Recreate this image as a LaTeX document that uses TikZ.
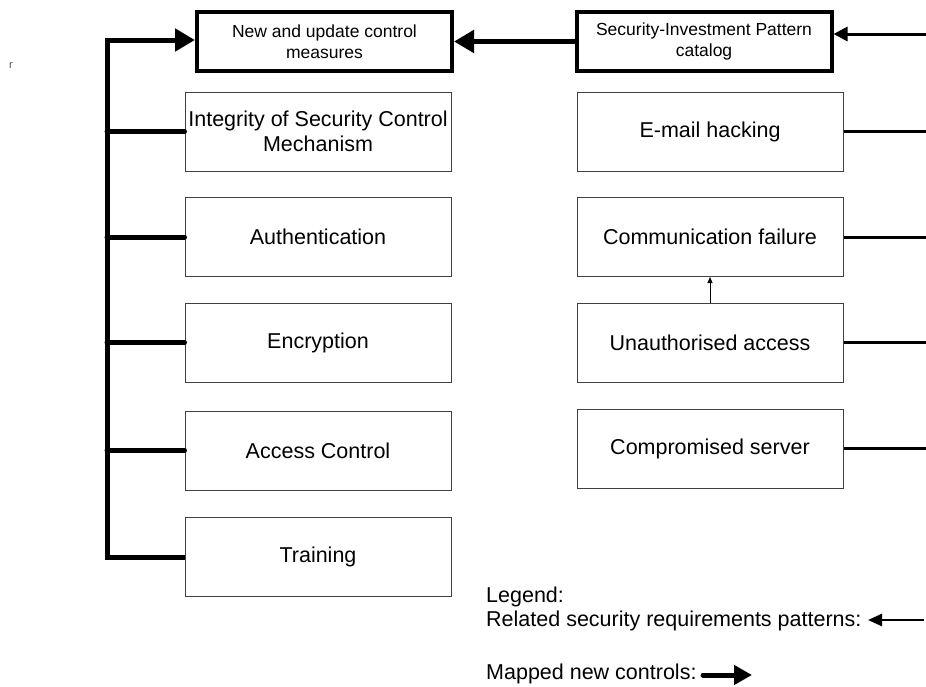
\documentclass[tikz,border=0pt]{standalone}
\usepackage{fontspec}
\setmainfont{Liberation Sans}
\usetikzlibrary{arrows.meta}
\begin{document}
\begin{tikzpicture}[x=1pt,y=-1pt,
  box/.style={draw=black!75,line width=1pt,minimum width=266pt,minimum height=79pt,align=center,font=\fontsize{21.5}{25}\selectfont,inner sep=1pt},
  topbox/.style={draw=black,line width=4pt,align=center,font=\fontsize{17.5}{21}\selectfont,inner sep=1pt,minimum width=255pt,minimum height=59pt},
  bus/.style={line width=5pt},
  rel/.style={line width=3pt},
  bigarrow/.style={line width=5pt,-{Triangle[length=20pt,width=22pt]}},
  relarrow/.style={line width=3pt,-{Triangle[length=14pt,width=14pt]}},
  legtext/.style={anchor=west,font=\fontsize{21.5}{25}\selectfont,inner sep=0pt}
]
\useasboundingbox (0,0) rectangle (926,686);
% top boxes
\node[topbox] (nu) at (324.5,41.5) {New and update control\\measures};
\node[topbox] (sip) at (704,41.5) {Security-Investment Pattern\\catalog};
% left boxes
\node[box] (int) at (318,131.5) {Integrity of Security Control\\Mechanism};
\node[box] (aut) at (318,237) {Authentication};
\node[box] (enc) at (318,342.5) {Encryption};
\node[box] (acc) at (318,450.5) {Access Control};
\node[box] (tra) at (318,557) {Training};
% right boxes
\node[box] (ema) at (710,131.5) {E-mail hacking};
\node[box] (com) at (710,237) {Communication failure};
\node[box] (una) at (710,342.5) {Unauthorised access};
\node[box] (cmp) at (710,448.5) {Compromised server};
% stray mark
\node[font=\fontsize{11}{12}\selectfont,text=black!70] (r) at (11,66) {r};
% bus
\coordinate (btop) at (107,40);
\draw[bigarrow,line join=miter] (tra.west) -| (btop) -- (nu.west |- btop);
\foreach \n in {int,aut,enc,acc}{
  \draw[bus,line cap=round] (107,0 |- \n.west) -- (\n.west);
}
% catalog -> new
\draw[bigarrow] (sip.west) -- (nu.east);
% right side
\coordinate (rin) at (926,34);
\draw[relarrow] (rin) -- (sip.east |- rin);
\foreach \n in {ema,com,una,cmp}{
  \coordinate (e\n) at (926,0 |- \n.east);
  \draw[rel] (\n.east) -- (e\n);
}
\draw[line width=1pt,-{Triangle[length=6pt,width=5pt]}] (una.north) -- (com.south);
% legend
\node[legtext] (lg) at (486,597) {Legend:};
\node[legtext] (l1) at (486,621) {Related security requirements patterns:};
\node[legtext] (l2) at (486,674) {Mapped new controls:};
\coordinate (a1s) at (924,620);
\coordinate (a1e) at (868,620);
\draw[line width=2.5pt,-{Triangle[length=14pt,width=12pt]}] (a1s) -- (a1e);
\coordinate (a2s) at (703,675);
\coordinate (a2e) at (752,675);
\draw[line width=5pt,line cap=round,-{Triangle[length=18pt,width=19pt]}] (a2s) -- (a2e);
\end{tikzpicture}
\end{document}
